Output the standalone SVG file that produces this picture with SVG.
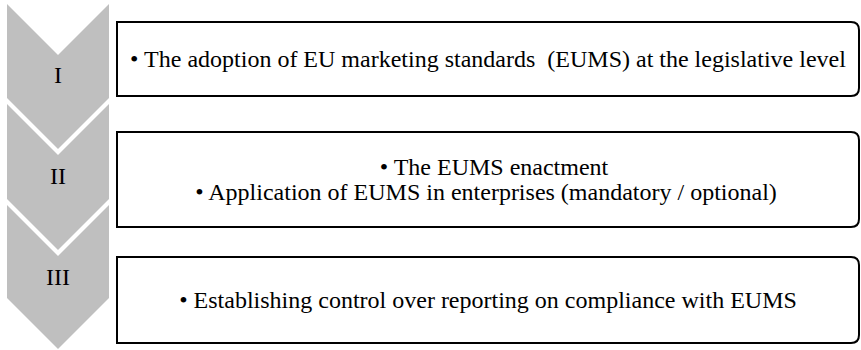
<svg xmlns="http://www.w3.org/2000/svg" width="861" height="350" viewBox="0 0 861 350">
<style>
.chev{fill:#bfbfbf;stroke:none}
.box{fill:#ffffff;stroke:#000000;stroke-width:2}
.num{font-family:"Liberation Serif","Times New Roman",serif;font-size:24px;fill:#000;text-anchor:middle}
.txt{font-family:"Liberation Serif","Times New Roman",serif;font-size:24px;fill:#000;text-anchor:middle;white-space:pre}
</style>
<rect width="861" height="350" fill="#ffffff"/>
<g id="step1">
<path class="chev" d="M7,4 L58,55 L109,4 L109,98 L58,149 L7,98 Z"/>
<text class="num" x="58" y="83">I</text>
<path class="box" d="M117,22 H851 Q859,22 859,30 V88 Q859,96 851,96 H117 Z"/>
<text class="txt" x="488" y="67" xml:space="preserve">• The adoption of EU marketing standards  (EUMS) at the legislative level</text>
</g>
<g id="step2">
<path class="chev" d="M7,104 L58,155 L109,104 L109,199 L58,250 L7,199 Z"/>
<text class="num" x="58" y="184">II</text>
<path class="box" d="M117,132 H851 Q859,132 859,140 V219 Q859,227 851,227 H117 Z"/>
<text class="txt" x="494" y="175">• The EUMS enactment</text>
<text class="txt" x="486" y="200">• Application of EUMS in enterprises (mandatory / optional)</text>
</g>
<g id="step3">
<path class="chev" d="M7,205 L58,256 L109,205 L109,298 L58,349 L7,298 Z"/>
<text class="num" x="58" y="285">III</text>
<path class="box" d="M117,257 H851 Q859,257 859,265 V335 Q859,343 851,343 H117 Z"/>
<text class="txt" x="488" y="308">• Establishing control over reporting on compliance with EUMS</text>
</g>
<g id="connectors"/>
</svg>
